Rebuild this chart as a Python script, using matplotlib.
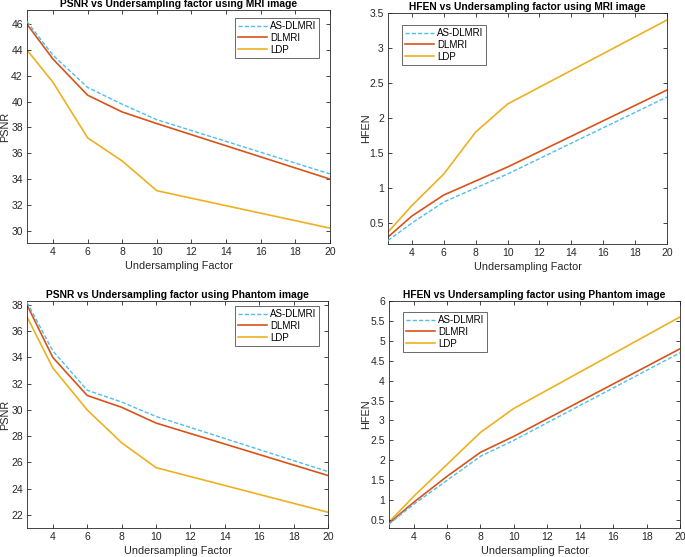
import matplotlib
matplotlib.use("Agg")
import matplotlib.pyplot as plt

plt.rcParams['font.family'] = ['Liberation Sans', 'DejaVu Sans']

x_factor = [2.5, 4, 6, 8, 10, 20]
series_names = ["AS-DLMRI", "DLMRI", "LDP"]

psnr_mri_as = [46.2, 43.6, 41.1, 39.8, 38.6, 34.4]
psnr_mri_dl = [46.0, 43.3, 40.5, 39.2, 38.3, 34.0]
psnr_mri_ldp = [44.0, 41.5, 37.2, 35.4, 33.1, 30.2]

hfen_mri_as = [0.25, 0.5, 0.8, 1.0, 1.2, 2.3]
hfen_mri_dl = [0.3, 0.6, 0.9, 1.1, 1.3, 2.4]
hfen_mri_ldp = [0.37, 0.75, 1.2, 1.8, 2.2, 3.4]

psnr_ph_as = [38.2, 34.5, 31.5, 30.6, 29.5, 25.3]
psnr_ph_dl = [38.0, 34.0, 31.1, 30.2, 29.0, 25.0]
psnr_ph_ldp = [37.1, 33.2, 30.0, 27.5, 25.6, 22.2]

hfen_ph_as = [0.4, 0.9, 1.5, 2.1, 2.5, 4.7]
hfen_ph_dl = [0.42, 0.95, 1.6, 2.2, 2.6, 4.8]
hfen_ph_ldp = [0.45, 1.1, 1.9, 2.7, 3.3, 5.6]

xticks = [4, 6, 8, 10, 12, 14, 16, 18, 20]

c_as = (0.30, 0.745, 0.933)
c_dl = (0.85, 0.325, 0.098)
c_ldp = (0.929, 0.694, 0.125)

W, H = 685, 557
fig = plt.figure(figsize=(W / 100, H / 100), dpi=100)

def box(l, r, t, b):
    return [l / W, 1 - b / H, (r - l) / W, (b - t) / H]

panels = [
    dict(px=(27, 330, 10, 243), data=(psnr_mri_as, psnr_mri_dl, psnr_mri_ldp),
         ylim=(29.05, 47.1), yticks=[30, 32, 34, 36, 38, 40, 42, 44, 46], ylabel="PSNR",
         ylab_x=5, title="PSNR vs Undersampling factor using MRI image",
         leg=(235, 18)),
    dict(px=(388, 667, 13, 244), data=(hfen_mri_as, hfen_mri_dl, hfen_mri_ldp),
         ylim=(0.2, 3.5), yticks=[0.5, 1, 1.5, 2, 2.5, 3, 3.5], ylabel="HFEN",
         ylab_x=366, title="HFEN vs Undersampling factor using MRI image",
         leg=(402, 25)),
    dict(px=(27, 328, 301, 528), data=(psnr_ph_as, psnr_ph_dl, psnr_ph_ldp),
         ylim=(21.0, 38.3), yticks=[22, 24, 26, 28, 30, 32, 34, 36, 38], ylabel="PSNR",
         ylab_x=5, title="PSNR vs Undersampling factor using Phantom image",
         leg=(235, 306)),
    dict(px=(389, 680, 301, 528), data=(hfen_ph_as, hfen_ph_dl, hfen_ph_ldp),
         ylim=(0.3, 6.0), yticks=[0.5, 1, 1.5, 2, 2.5, 3, 3.5, 4, 4.5, 5, 5.5, 6], ylabel="HFEN",
         ylab_x=366, title="HFEN vs Undersampling factor using Phantom image",
         leg=(403, 312)),
]

for p in panels:
    l, r, t, b = p['px']
    ax = fig.add_axes(box(l, r, t, b))
    a, d, ld = p['data']
    ax.plot(x_factor, a, color=c_as, lw=1.0, ls=(0, (3, 1.5)), label=series_names[0], zorder=3)
    ax.plot(x_factor, d, color=c_dl, lw=1.2, label=series_names[1], zorder=2)
    ax.plot(x_factor, ld, color=c_ldp, lw=1.2, label=series_names[2], zorder=1)
    ax.set_xlim(2.5, 20)
    ax.set_ylim(*p['ylim'])
    ax.set_xticks(xticks)
    ax.set_yticks(p['yticks'])
    ax.set_yticklabels([('%g' % v) for v in p['yticks']])
    ax.tick_params(direction='in', top=True, right=True, length=3, width=0.6,
                   labelsize=7.5, colors='#262626', pad=3)
    for s in ax.spines.values():
        s.set_linewidth(0.6)
        s.set_color('#262626')
    ax.set_xlabel("Undersampling Factor", fontsize=7.8, color='#262626', labelpad=3)
    ax.set_ylabel(p['ylabel'], fontsize=7.8, color='#262626', va='center')
    ax.yaxis.set_label_coords((p['ylab_x'] - l) / (r - l), 0.5)
    ax.set_title(p['title'], fontsize=7.4, fontweight='bold', pad=2)
    lx, ly = p['leg']
    leg = ax.legend(loc='upper left', bbox_to_anchor=(lx / W, 1 - ly / H), bbox_transform=fig.transFigure,
                    fontsize=7, frameon=True, fancybox=False, edgecolor='#262626',
                    handlelength=3.0, handletextpad=0.3, borderpad=0.3, labelspacing=0.2,
                    borderaxespad=0)
    leg.get_frame().set_linewidth(0.6)

fig.savefig("out.png", dpi=100)
